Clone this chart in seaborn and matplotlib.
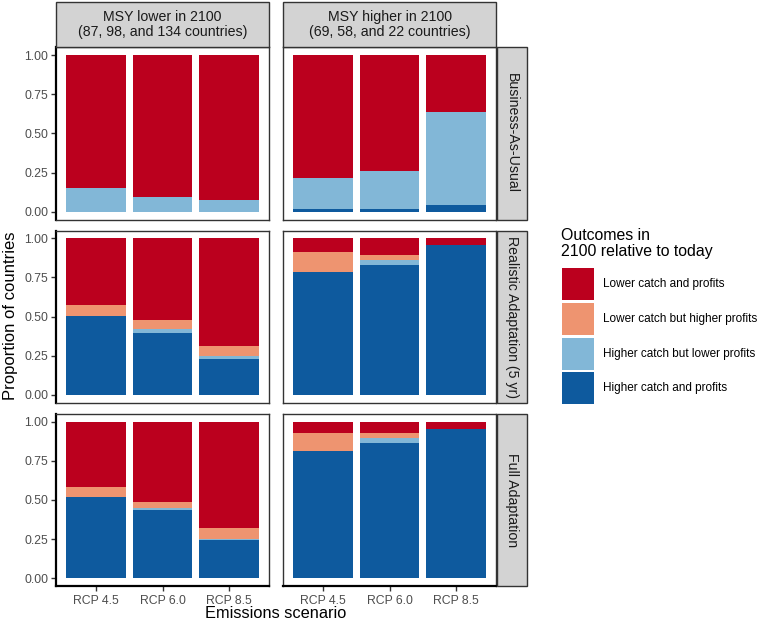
import numpy as np
import pandas as pd
import matplotlib
matplotlib.use("Agg")
import matplotlib.pyplot as plt
from matplotlib.patches import Rectangle
import seaborn as sns

scenarios = ["RCP 4.5", "RCP 6.0", "RCP 8.5"]
msy_groups = ["MSY lower in 2100\n(87, 98, and 134 countries)",
              "MSY higher in 2100\n(69, 58, and 22 countries)"]
policies = ["Business-As-Usual", "Realistic Adaptation (5 yr)", "Full Adaptation"]
outcomes = ["Lower catch and profits", "Lower catch but higher profits",
            "Higher catch but lower profits", "Higher catch and profits"]
colors = ["#BB001E", "#EE9470", "#82B7D7", "#0E5A9E"]

# proportions indexed [policy][msy group][scenario]
higher_catch_and_profits = [
    [[0.000, 0.000, 0.000], [0.014, 0.017, 0.045]],
    [[0.506, 0.398, 0.231], [0.783, 0.828, 0.955]],
    [[0.517, 0.439, 0.246], [0.812, 0.862, 0.955]],
]
higher_catch_lower_profits = [
    [[0.149, 0.092, 0.075], [0.203, 0.241, 0.591]],
    [[0.000, 0.020, 0.015], [0.000, 0.034, 0.000]],
    [[0.000, 0.010, 0.008], [0.000, 0.034, 0.000]],
]
lower_catch_higher_profits = [
    [[0.000, 0.000, 0.000], [0.000, 0.000, 0.000]],
    [[0.069, 0.061, 0.067], [0.130, 0.034, 0.000]],
    [[0.069, 0.041, 0.067], [0.116, 0.034, 0.000]],
]
lower_catch_and_profits = [
    [[0.851, 0.908, 0.925], [0.783, 0.742, 0.364]],
    [[0.425, 0.521, 0.687], [0.087, 0.104, 0.045]],
    [[0.414, 0.510, 0.679], [0.072, 0.070, 0.045]],
]

# stacking order from bottom to top
stack_series = [higher_catch_and_profits, higher_catch_lower_profits,
                lower_catch_higher_profits, lower_catch_and_profits]
stack_names = outcomes[::-1]
stack_colors = colors[::-1]

rows = []
for k, (series, name) in enumerate(zip(stack_series, stack_names)):
    for i, pol in enumerate(policies):
        for j, grp in enumerate(msy_groups):
            for s, sc in enumerate(scenarios):
                rows.append(dict(policy=pol, group=grp, scenario=sc,
                                 outcome=name, order=k, value=series[i][j][s]))
df = pd.DataFrame(rows)

sns.set_theme(style="white")
plt.rcParams["font.family"] = ["Liberation Sans", "DejaVu Sans"]

W, H = 762, 626
fig = plt.figure(figsize=(W / 100, H / 100), dpi=100)

def fx(px):
    return px / W

def fy(py):
    return 1 - py / H

col_x = [(56, 269), (283, 496)]
row_y = [(47.2, 219.5), (230.5, 402.8), (413.9, 586.1)]
border = "#333333"
tickc = "#4D4D4D"

for i, pol in enumerate(policies):
    for j, grp in enumerate(msy_groups):
        x0, x1 = col_x[j]
        y0, y1 = row_y[i]
        ax = fig.add_axes([fx(x0), fy(y1), fx(x1 - x0), (y1 - y0) / H])
        sub = df[(df.policy == pol) & (df.group == grp)]
        bottom = np.zeros(len(scenarios))
        for k, name in enumerate(stack_names):
            part = sub[sub.outcome == name].set_index("scenario").loc[scenarios].reset_index()
            sns.barplot(data=part, x="scenario", y="value", order=scenarios,
                        color=stack_colors[k], saturation=1, width=0.9,
                        errorbar=None, bottom=bottom, linewidth=0,
                        edgecolor="none", ax=ax)
            bottom = bottom + part["value"].to_numpy()
        ax.set_xlim(-0.6, 2.6)
        ax.set_ylim(-0.05, 1.05)
        ax.set_xlabel("")
        ax.set_ylabel("")
        ax.set_yticks([0, 0.25, 0.5, 0.75, 1.0])
        for sp in ax.spines.values():
            sp.set_color(border)
            sp.set_linewidth(1.0)
            sp.set_visible(True)
        if j == 0:
            ax.set_yticklabels(["0.00", "0.25", "0.50", "0.75", "1.00"])
            ax.spines["left"].set_color("black")
            ax.spines["left"].set_linewidth(1.6)
            ax.tick_params(axis="y", length=3.5, width=1.0, color="#333333",
                           labelsize=8.8, labelcolor=tickc, pad=2, left=True)
        else:
            ax.set_yticklabels([])
            ax.tick_params(axis="y", left=False)
        if i == 2:
            ax.spines["bottom"].set_color("black")
            ax.spines["bottom"].set_linewidth(1.6)
            ax.tick_params(axis="x", length=3.5, width=1.0, color="#333333",
                           labelsize=8.8, labelcolor=tickc, pad=3, bottom=True)
        else:
            ax.set_xticklabels([])
            ax.tick_params(axis="x", bottom=False)

        # top strips
        if i == 0:
            fig.patches.append(Rectangle((fx(x0), fy(47.2)), fx(x1 - x0), 45.2 / H,
                                         transform=fig.transFigure, facecolor="#D3D3D3",
                                         edgecolor=border, linewidth=1.0, zorder=0))
            fig.text(fx((x0 + x1) / 2), fy(24.6), grp, ha="center", va="center",
                     fontsize=10.2, color="#1A1A1A", linespacing=1.15)
    # right strips
    y0, y1 = row_y[i]
    fig.patches.append(Rectangle((fx(497), fy(y1)), fx(30), (y1 - y0) / H,
                                 transform=fig.transFigure, facecolor="#D3D3D3",
                                 edgecolor=border, linewidth=1.0, zorder=0))
    fig.text(fx(512), fy((y0 + y1) / 2), pol, ha="center", va="center",
             rotation=-90, fontsize=10.2, color="#1A1A1A")

fig.text(fx(11), fy(316), "Proportion of countries", rotation=90,
         ha="center", va="center", fontsize=12, color="black")
fig.text(fx(276), fy(614), "Emissions scenario", ha="center", va="center",
         fontsize=11.8, color="black")

# legend
fig.text(fx(561), fy(228), "Outcomes in\n2100 relative to today", ha="left", va="top",
         fontsize=11.4, color="black", linespacing=1.1)
key_tops = [268.3, 303.3, 338.0, 372.3]
for name, c, top in zip(outcomes, colors, key_tops):
    fig.patches.append(Rectangle((fx(562), fy(top + 32)), fx(32), 32 / H,
                                 transform=fig.transFigure, facecolor=c,
                                 edgecolor="none"))
    fig.text(fx(603), fy(top + 16), name, ha="left", va="center",
             fontsize=8.5, color="black")

fig.savefig("out.png", dpi=100)
